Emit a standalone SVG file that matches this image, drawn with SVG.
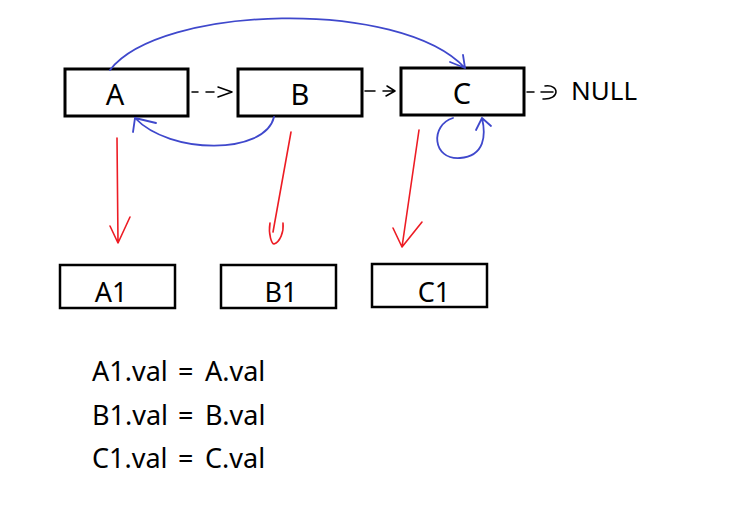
<svg xmlns="http://www.w3.org/2000/svg" width="746" height="515" viewBox="0 0 746 515">
<style>
.box{fill:#fff;stroke:#000;stroke-width:3}
.box2{fill:#fff;stroke:#000;stroke-width:2.5}
.lbl{font-family:"Noto Sans","Open Sans",sans-serif;fill:#000;text-anchor:middle}
.big{font-size:29px}
.mid{font-size:27px}
.eq{font-family:"Noto Sans","Open Sans",sans-serif;font-size:27px;fill:#000}
.blue{fill:none;stroke:#3f48cc;stroke-width:1.8;stroke-linecap:round;stroke-linejoin:round}
.red{fill:none;stroke:#ed1c24;stroke-width:1.6;stroke-linecap:round;stroke-linejoin:round}
.dash{fill:none;stroke:#000;stroke-width:1.5;stroke-linecap:round;stroke-linejoin:round}
</style>
<rect width="746" height="515" fill="#fff"/>
<g id="node-A"><rect class="box" x="65" y="69" width="123" height="47"/><text class="lbl big" x="115" y="105">A</text></g>
<g id="node-B"><rect class="box" x="238" y="69" width="124" height="47"/><text class="lbl big" x="300" y="105">B</text></g>
<g id="node-C"><rect class="box" x="401" y="68" width="123" height="47"/><text class="lbl big" x="462" y="104">C</text></g>
<g id="node-NULL"><text class="lbl" style="font-size:26px;text-anchor:start" x="571" y="100">NULL</text></g>
<g id="node-A1"><rect class="box2" x="60" y="265" width="115" height="43"/><text class="lbl mid" x="111" y="302">A1</text></g>
<g id="node-B1"><rect class="box2" x="221" y="265" width="115" height="43"/><text class="lbl mid" x="281" y="302">B1</text></g>
<g id="node-C1"><rect class="box2" x="372" y="264" width="115" height="43"/><text class="lbl mid" x="434" y="302">C1</text></g>
<g id="equations">
<text class="eq" y="381"><tspan x="92">A1.val</tspan><tspan x="178">=</tspan><tspan x="205">A.val</tspan></text>
<text class="eq" y="425"><tspan x="92">B1.val</tspan><tspan x="178">=</tspan><tspan x="205">B.val</tspan></text>
<text class="eq" y="468"><tspan x="92">C1.val</tspan><tspan x="178">=</tspan><tspan x="205">C.val</tspan></text>
</g>
<g id="connectors">
<path class="dash" d="M192,92 L198,92 M206,92 L214,92 M218,87 L232,92 L218,97"/>
<path class="dash" d="M365,91 L375,91 M383,91 L393,91 M387,86 L395,91 L386,96"/>
<path class="dash" d="M527,92 L534,92 M541,92 L553,92 M545,86 C560,84 560,100 543,99"/>
<path class="blue" d="M110,70 C160,5 400,-2 465,68 M450,62 L465,68 L463,55"/>
<path class="blue" d="M274,117 C265,155 170,155 135,118 M133,132 L135,118 L156,123"/>
<path class="blue" d="M453,118 C430,125 432,160 460,158 C485,156 486,135 482,118 M476,130 L482,118 L491,126"/>
<path class="red" d="M117,138 L118,243 M110,226 L118,243 L130,217"/>
<path class="red" d="M291,132 L273,232 M270,223 C268,235 272,244 274,244 C280,242 284,232 283,223"/>
<path class="red" d="M419,130 L402,247 M393,228 L402,247 L422,222"/>
</g>
</svg>
